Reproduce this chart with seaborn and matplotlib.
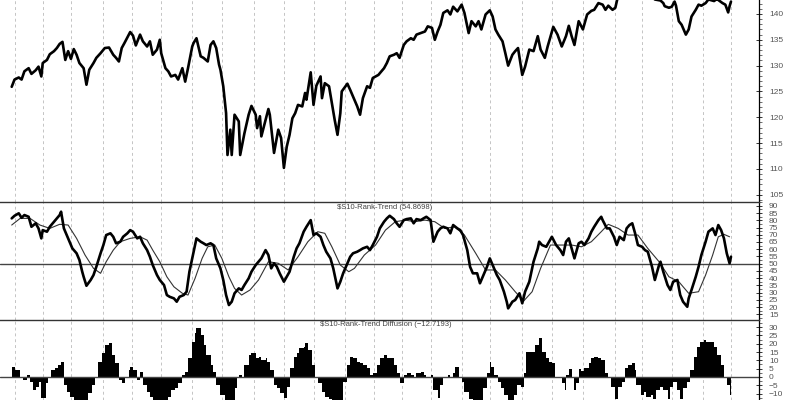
import matplotlib
matplotlib.use("Agg")
import matplotlib.pyplot as plt
import seaborn as sns
import pandas as pd

# =========================
# Data (x = trading session number)
# =========================
price_day = [0, 2, 5, 7, 9, 12, 14, 17, 19, 21, 22, 25, 27, 30, 32, 34, 36, 38, 40, 42,
             44, 46, 48, 51, 53, 55, 58, 60, 63, 66, 69, 72, 74, 76, 78, 80, 84, 86, 88, 91,
             93, 96, 98, 100, 103, 105, 106, 109, 111, 113, 116, 118, 121, 123, 125, 128, 129, 131, 134, 136,
             139, 141, 143, 145, 147, 148, 150, 152, 153, 155, 156, 158, 161, 162, 165, 168, 170, 173, 174, 176,
             177, 180, 182, 183, 186, 189, 191, 193, 195, 197, 199, 201, 203, 206, 208, 209, 212, 214, 216, 219,
             220, 222, 225, 227, 229, 231, 233, 234, 238, 240, 242, 245, 247, 249, 252, 254, 256, 260, 264, 266,
             268, 271, 273, 275, 278, 280, 283, 285, 287, 290, 293, 295, 298, 300, 302, 304, 306, 309, 311, 313,
             316, 319, 321, 324, 326, 329, 331, 333, 336, 339, 341, 343, 345, 348, 350, 352, 355, 357, 359, 362,
             364, 367, 370, 373, 375, 378, 380, 384, 387, 390, 393, 395, 397, 399, 402, 405, 408, 411, 413, 416,
             419, 421, 423, 426, 428, 430, 433, 437, 441, 445, 449, 453, 456, 460, 462, 463, 466, 468, 470, 471,
             473, 475, 478, 480, 482, 485, 487, 489, 492, 494, 498, 500, 504, 506, 508, 509, 510]
price_val = [125.9, 127.3, 127.7, 127.3, 128.9, 129.5, 128.4, 129.1, 129.8, 127.9, 130.5, 131.1, 132.2, 132.8, 133.4, 134.2, 134.6, 131.1, 132.8, 131.3,
             133.2, 132.1, 130.5, 129.5, 126.3, 129.2, 130.5, 131.5, 132.4, 133.4, 133.5, 132.1, 131.5, 130.8, 133.4, 134.4, 136.5, 135.8, 133.9, 136.0,
             134.7, 133.7, 134.7, 132.1, 133.1, 135.0, 132.4, 129.5, 128.9, 127.9, 128.2, 127.3, 129.5, 126.9, 129.5, 133.7, 134.4, 135.3, 131.8, 131.5,
             130.8, 134.0, 134.7, 133.4, 130.2, 129.2, 126.0, 120.8, 112.7, 117.6, 112.7, 120.5, 119.2, 112.7, 116.9, 120.5, 122.2, 120.5, 117.9, 120.2,
             116.3, 119.5, 121.6, 120.5, 113.1, 117.6, 116.0, 110.2, 114.3, 116.6, 119.8, 120.8, 122.4, 122.1, 124.7, 123.4, 128.7, 122.4, 126.1, 127.9,
             123.7, 126.6, 126.0, 122.8, 119.5, 116.6, 120.8, 125.0, 126.5, 125.3, 124.0, 122.1, 120.5, 123.7, 126.0, 125.7, 127.6, 128.2, 129.5, 130.5,
             131.8, 132.1, 132.4, 131.5, 134.0, 134.7, 135.3, 135.0, 136.0, 136.3, 136.6, 137.6, 137.3, 135.0, 136.6, 137.9, 140.2, 140.7, 139.9, 141.4,
             140.5, 141.8, 140.2, 136.3, 138.6, 137.6, 138.6, 137.0, 139.9, 140.7, 139.5, 137.0, 136.0, 134.7, 132.4, 130.0, 132.1, 132.8, 133.4, 128.2,
             129.8, 133.1, 132.8, 135.7, 133.1, 131.5, 133.7, 137.5, 136.0, 133.7, 135.7, 137.7, 135.7, 134.0, 138.6, 137.0, 139.9, 140.6, 140.8, 142.1,
             141.8, 140.8, 141.6, 140.8, 141.2, 143.6, 144.5, 145.2, 144.6, 145.5, 144.8, 144.0, 142.8, 142.6, 142.1, 141.5, 141.2, 141.4, 142.4, 141.6,
             138.6, 137.9, 136.0, 137.0, 139.5, 140.8, 141.8, 141.6, 142.1, 142.8, 142.5, 142.9, 142.1, 141.8, 140.3, 141.5, 142.4]

rank_day = [0, 2, 5, 7, 9, 12, 14, 17, 19, 21, 22, 25, 27, 30, 32, 34, 35, 37, 39, 41,
            43, 46, 48, 50, 51, 53, 56, 58, 60, 63, 65, 67, 70, 72, 74, 77, 79, 82, 84, 86,
            89, 91, 93, 96, 98, 100, 103, 105, 108, 110, 112, 115, 117, 119, 122, 124, 126, 129, 131, 134,
            136, 138, 141, 143, 145, 148, 150, 152, 154, 156, 158, 161, 163, 165, 168, 170, 173, 175, 177, 180,
            182, 184, 186, 188, 190, 193, 195, 197, 200, 202, 204, 207, 209, 212, 214, 216, 219, 221, 223, 226,
            228, 229, 231, 233, 235, 238, 240, 242, 245, 247, 249, 252, 254, 256, 259, 261, 264, 266, 268, 271,
            273, 275, 278, 280, 283, 285, 287, 290, 292, 294, 297, 299, 302, 304, 306, 309, 311, 313, 316, 318,
            320, 323, 325, 327, 330, 332, 334, 337, 339, 342, 344, 346, 349, 351, 352, 355, 357, 360, 362, 364,
            367, 368, 370, 373, 374, 376, 379, 381, 383, 386, 389, 391, 393, 395, 397, 399, 402, 404, 406, 409,
            411, 413, 416, 418, 419, 422, 424, 427, 429, 431, 434, 436, 438, 440, 442, 444, 447, 449, 451, 454,
            456, 459, 460, 462, 465, 467, 469, 472, 474, 476, 479, 480, 482, 485, 487, 489, 492, 494, 497, 499,
            501, 503, 505, 507, 509, 510]
rank_val = [81.3, 83.1, 84.8, 81.7, 83.6, 82.4, 75.5, 77.9, 74.4, 67.5, 73.2, 72.1, 75.5, 79.0, 81.3, 83.6, 85.9, 74.4, 69.8, 65.2,
            60.6, 57.2, 52.6, 44.5, 41.0, 34.8, 38.8, 42.2, 47.9, 57.2, 62.9, 69.8, 71.0, 68.6, 64.1, 65.2, 68.6, 71.0, 73.2, 72.1,
            67.5, 68.6, 64.1, 59.4, 54.8, 49.1, 42.2, 38.8, 35.3, 28.4, 27.2, 26.1, 23.8, 27.2, 28.4, 30.7, 44.5, 58.3, 67.5, 65.2,
            64.1, 62.9, 64.1, 62.9, 53.7, 46.8, 38.8, 28.4, 21.5, 23.8, 29.6, 33.0, 31.9, 35.3, 39.9, 44.5, 49.1, 51.4, 53.7, 59.4,
            56.0, 46.8, 50.3, 47.9, 43.4, 37.6, 41.0, 44.5, 54.8, 60.6, 64.1, 72.1, 75.5, 80.1, 69.8, 71.0, 68.6, 62.9, 58.3, 53.7,
            46.8, 42.2, 33.0, 37.6, 43.4, 50.3, 54.8, 57.2, 58.3, 59.4, 60.6, 61.7, 59.4, 62.9, 68.6, 74.4, 79.0, 81.3, 83.1, 80.8,
            77.9, 75.5, 80.1, 80.8, 81.3, 77.9, 80.8, 80.1, 81.3, 82.4, 80.1, 65.2, 72.1, 74.4, 75.5, 74.4, 71.0, 76.7, 74.4, 73.2,
            69.8, 59.4, 47.9, 43.4, 43.4, 36.5, 41.0, 47.9, 53.7, 46.8, 42.2, 38.8, 30.7, 23.8, 19.2, 23.8, 25.0, 29.6, 22.7, 30.7,
            37.6, 42.2, 51.4, 60.6, 65.2, 62.9, 61.7, 65.2, 68.6, 62.9, 59.4, 56.0, 65.2, 67.5, 60.6, 53.7, 64.1, 65.2, 62.9, 67.5,
            72.1, 75.5, 80.1, 82.4, 80.1, 74.4, 74.4, 68.6, 62.9, 68.6, 66.3, 74.4, 76.7, 77.9, 71.0, 62.9, 61.7, 59.4, 58.3, 47.9,
            38.8, 49.1, 51.4, 44.5, 35.3, 31.9, 37.6, 38.8, 28.4, 23.8, 20.3, 26.1, 31.9, 41.0, 47.9, 56.0, 65.2, 72.1, 74.4, 69.8,
            76.7, 73.2, 67.5, 57.2, 50.3, 54.87]

ma_day = [0, 6, 13, 20, 27, 34, 40, 46, 52, 58, 63, 67, 72, 77, 84, 91, 96, 100, 105, 110,
          115, 121, 125, 130, 135, 139, 144, 149, 154, 158, 163, 169, 175, 182, 189, 196, 203, 210, 217, 222,
          227, 233, 239, 243, 250, 258, 265, 272, 279, 286, 293, 300, 307, 314, 321, 329, 336, 343, 350, 357,
          363, 369, 375, 382, 390, 397, 404, 411, 418, 423, 430, 437, 444, 451, 459, 466, 473, 480, 487, 492,
          497, 501, 505, 509]
ma_val = [76.7, 81.3, 81.3, 76.7, 74.4, 77.2, 76.7, 67.5, 56.0, 46.8, 43.4, 51.4, 59.4, 65.2, 67.5, 68.6, 66.3, 59.4, 51.4, 41.0,
          34.1, 29.6, 28.4, 39.9, 53.7, 61.7, 62.9, 53.7, 41.0, 33.0, 28.4, 31.9, 38.8, 51.4, 50.3, 45.7, 54.8, 65.2, 72.1, 71.0,
          61.7, 49.1, 44.5, 46.8, 56.0, 62.9, 73.2, 79.0, 80.1, 79.0, 80.1, 79.0, 74.4, 75.5, 69.8, 57.2, 45.7, 45.7, 38.8, 30.7,
          24.3, 30.7, 46.8, 62.9, 62.9, 62.9, 61.7, 65.2, 72.1, 77.2, 74.4, 69.8, 69.8, 60.6, 51.4, 41.0, 37.6, 29.6, 30.7, 42.2,
          56.0, 68.6, 70.3, 68.6]

diff_day = [0, 2, 5, 6, 8, 11, 13, 15, 17, 19, 21, 24, 26, 28, 31, 33, 35, 37, 39, 41,
            44, 47, 51, 54, 57, 59, 61, 64, 66, 69, 71, 73, 76, 78, 80, 83, 84, 86, 89, 91,
            93, 96, 98, 100, 104, 108, 111, 113, 116, 118, 121, 123, 125, 128, 130, 131, 134, 136, 138, 141,
            143, 145, 148, 151, 155, 158, 160, 161, 163, 165, 168, 170, 173, 175, 177, 180, 181, 183, 186, 188,
            190, 193, 195, 197, 200, 202, 204, 207, 208, 210, 213, 215, 217, 220, 222, 225, 227, 230, 233, 235,
            238, 240, 242, 245, 247, 249, 252, 254, 256, 259, 261, 264, 266, 268, 271, 273, 275, 278, 280, 283,
            285, 287, 290, 292, 294, 297, 299, 302, 304, 306, 309, 311, 313, 314, 317, 319, 321, 324, 327, 331,
            334, 337, 339, 340, 342, 345, 347, 349, 352, 356, 358, 361, 363, 365, 369, 371, 374, 376, 379, 381,
            383, 385, 387, 390, 392, 393, 395, 397, 399, 400, 402, 404, 406, 409, 411, 413, 416, 418, 421, 423,
            425, 428, 430, 433, 435, 437, 440, 442, 443, 446, 448, 450, 453, 455, 457, 460, 462, 465, 467, 469,
            472, 474, 476, 479, 481, 484, 486, 488, 491, 492, 495, 498, 500, 503, 505, 507, 509, 510]
diff_val = [6.2, 4.2, 4.2, 0.2, -1.8, 1.2, -2.8, -7.8, -5.8, -2.8, -12.9, -3.8, 0.2, 4.2, 5.2, 7.2, 9.2, -4.8, -8.8, -11.8,
            -16.0, -17.0, -16.0, -9.8, -4.8, 0.0, 9.2, 14.3, 19.3, 20.3, 13.3, 8.2, -1.8, -3.8, -0.8, 4.2, 6.2, 4.2, -1.8, 3.2,
            -4.8, -8.8, -11.8, -16.0, -18.0, -16.0, -11.8, -7.8, -6.8, -3.8, 1.2, 3.2, 11.2, 21.3, 26.3, 29.3, 25.3, 19.3, 13.3, 7.2,
            3.2, -4.8, -10.8, -16.0, -16.0, -6.8, -0.8, 1.2, 0.0, 7.2, 13.3, 14.3, 11.2, 12.2, 10.2, 11.2, 9.2, 4.2, -4.8, -6.8,
            -9.8, -12.9, -5.8, 5.2, 12.2, 14.3, 17.3, 18.3, 20.3, 16.3, 7.2, -0.8, -3.8, -8.8, -11.8, -13.0, -16.0, -17.0, -16.0, -2.8,
            7.2, 12.2, 11.2, 9.2, 8.2, 7.2, 5.2, 1.2, 2.2, 7.2, 11.2, 13.3, 11.2, 11.2, 7.2, 2.2, -3.8, 1.2, 2.2, 1.2,
            0.2, 2.2, 3.2, 1.2, 0.2, 1.2, -7.8, -12.9, -4.8, 0.2, 1.2, 0.2, 2.2, 6.2, 0.2, -2.8, -8.8, -13.0, -16.0, -16.0,
            -6.8, 2.2, 9.2, 6.2, 1.2, -2.8, -6.8, -10.8, -16.0, -10.8, -4.8, -5.8, 2.2, 15.3, 15.3, 19.3, 23.3, 15.3, 11.2, 9.2,
            8.2, 0.2, -0.8, -3.8, -7.8, 1.2, 4.8, -0.8, -7.8, -3.8, 4.8, 3.6, 5.2, 8.2, 11.2, 12.2, 11.2, 10.2, 2.2, -0.8,
            -5.8, -13.0, -5.8, -2.8, 5.2, 7.2, 8.2, 4.2, -4.8, -10.8, -8.8, -11.8, -10.8, -13.0, -7.8, -5.8, -7.8, -13.0, -5.8, -2.8,
            -7.8, -13.0, -6.8, -2.8, 4.2, 12.2, 18.3, 21.3, 22.3, 21.3, 21.3, 18.3, 13.3, 7.2, -0.8, -4.8, -10.8, -12.72]

# month boundaries (session numbers) for the dashed vertical grid
month_days = [2, 22, 42, 65, 85, 106, 128, 149, 172, 193, 214, 236, 257, 277, 297, 319,
              339, 362, 383, 405, 428, 447, 468, 490, 510]

rank_title = "$S10-Rank-Trend (54.8698)"
diff_title = "$S10-Rank-Trend Diffusion (\u221212.7193)"

price_df = pd.DataFrame({"day": price_day, "value": price_val})
rank_df = pd.DataFrame({"day": rank_day, "value": rank_val})
ma_df = pd.DataFrame({"day": ma_day, "value": ma_val})

# =========================
# Figure setup
# =========================
sns.set_style("white")
plt.rcParams["font.family"] = ["Liberation Sans", "DejaVu Sans"]

fig = plt.figure(figsize=(8, 4), dpi=100)
ax1 = fig.add_axes([0.0, 0.495, 0.949, 0.505])
ax2 = fig.add_axes([0.0, 0.2008, 0.949, 0.2942], sharex=ax1)
ax3 = fig.add_axes([0.0, 0.0, 0.949, 0.2008], sharex=ax1)

# 1. price
sns.lineplot(data=price_df, x="day", y="value", ax=ax1, color="black",
             linewidth=1.9, estimator=None, sort=False)

# 2. rank trend + its average
sns.lineplot(data=ma_df, x="day", y="value", ax=ax2, color="#333333",
             linewidth=0.8, estimator=None, sort=False)
sns.lineplot(data=rank_df, x="day", y="value", ax=ax2, color="black",
             linewidth=1.9, estimator=None, sort=False)
ax2.axhline(50, color="#444444", linewidth=1.0, zorder=1)

# 3. diffusion histogram
ax3.fill_between(diff_day, diff_val, 0, step="post", color="black", linewidth=0)
ax3.axhline(0, color="#444444", linewidth=1.0, zorder=1)

ax1.set_ylim(103.6, 142.7)
ax2.set_ylim(11.4, 92.6)
ax3.set_ylim(-13.9, 34.5)
ax1.set_xlim(-8.3, 530)

minor = {ax1: 1, ax2: 2.5, ax3: 2.5}
for ax in (ax1, ax2, ax3):
    ax.set_xlabel("")
    ax.set_ylabel("")
    ax.set_facecolor("white")
    ax.set_xticks(month_days)
    ax.grid(axis="x", color="#c4c4c4", linestyle=(0, (3, 3)), linewidth=0.7)
    ax.grid(axis="y", visible=False)
    ax.tick_params(axis="x", length=0, labelbottom=False)
    ax.yaxis.tick_right()
    ax.yaxis.set_minor_locator(plt.MultipleLocator(minor[ax]))
    ax.tick_params(axis="y", which="major", direction="inout", length=4, width=0.7,
                   labelsize=6, labelcolor="#555555", color="#333333", pad=5)
    ax.tick_params(axis="y", which="minor", direction="out", length=2, width=0.5,
                   color="#333333")
    for side in ("left", "bottom", "top"):
        ax.spines[side].set_visible(False)
    ax.spines["right"].set_color("black")
    ax.spines["right"].set_linewidth(0.9)

for ax in (ax2, ax3):
    ax.spines["top"].set_visible(True)
    ax.spines["top"].set_color("#333333")
    ax.spines["top"].set_linewidth(1.0)

ax1.yaxis.set_major_locator(plt.FixedLocator([105, 110, 115, 120, 125, 130, 135, 140]))
ax2.yaxis.set_major_locator(plt.FixedLocator(list(range(15, 95, 5))))
ax3.yaxis.set_major_locator(plt.FixedLocator(list(range(-10, 35, 5))))

ax2.text(0.506, 0.955, rank_title, transform=ax2.transAxes, ha="center", va="center",
         fontsize=5.5, color="#444444")
ax3.text(0.508, 0.94, diff_title, transform=ax3.transAxes, ha="center", va="center",
         fontsize=5.5, color="#444444")

fig.savefig("out.png", dpi=100)
